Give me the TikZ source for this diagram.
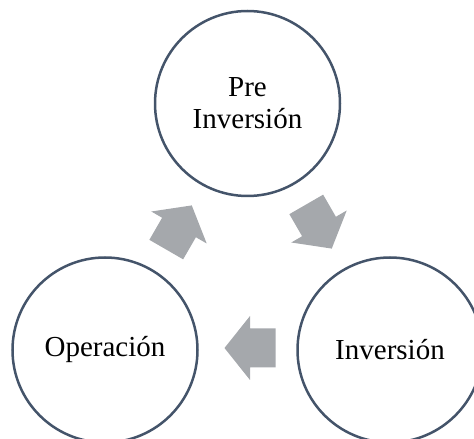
\documentclass[tikz,border=0pt]{standalone}
\usepackage{fontspec}
\setmainfont{Liberation Serif}
\definecolor{ringblue}{HTML}{44546A}
\definecolor{arrowgray}{HTML}{A5A8AC}
\tikzset{
  ring/.style={circle, draw=ringblue, line width=2.5pt, fill=white, minimum size=185pt, inner sep=0pt, align=center, font=\fontsize{29}{32}\selectfont},
  blockarr/.pic={\fill[arrowgray] (-25.5,19.5) -- (0,19.5) -- (0,32) -- (25.5,0) -- (0,-32) -- (0,-19.5) -- (-25.5,-19.5) -- cycle;}
}
\begin{document}
\begin{tikzpicture}[x=1pt,y=1pt]
\useasboundingbox (0,0) rectangle (474,439);
\clip (0,0) rectangle (474,439);
\node[ring] (pre) at (247.5,335.5) {Pre\\Inversión};
\node[ring] (inv) at (390,89) {Inversión};
\node[ring] (op) at (105,89) {Operación};
\pic[rotate=-60] at (319,212.5) {blockarr};
\pic[rotate=180] at (250,91) {blockarr};
\pic[rotate=60] at (179,211.5) {blockarr};
\end{tikzpicture}
\end{document}
